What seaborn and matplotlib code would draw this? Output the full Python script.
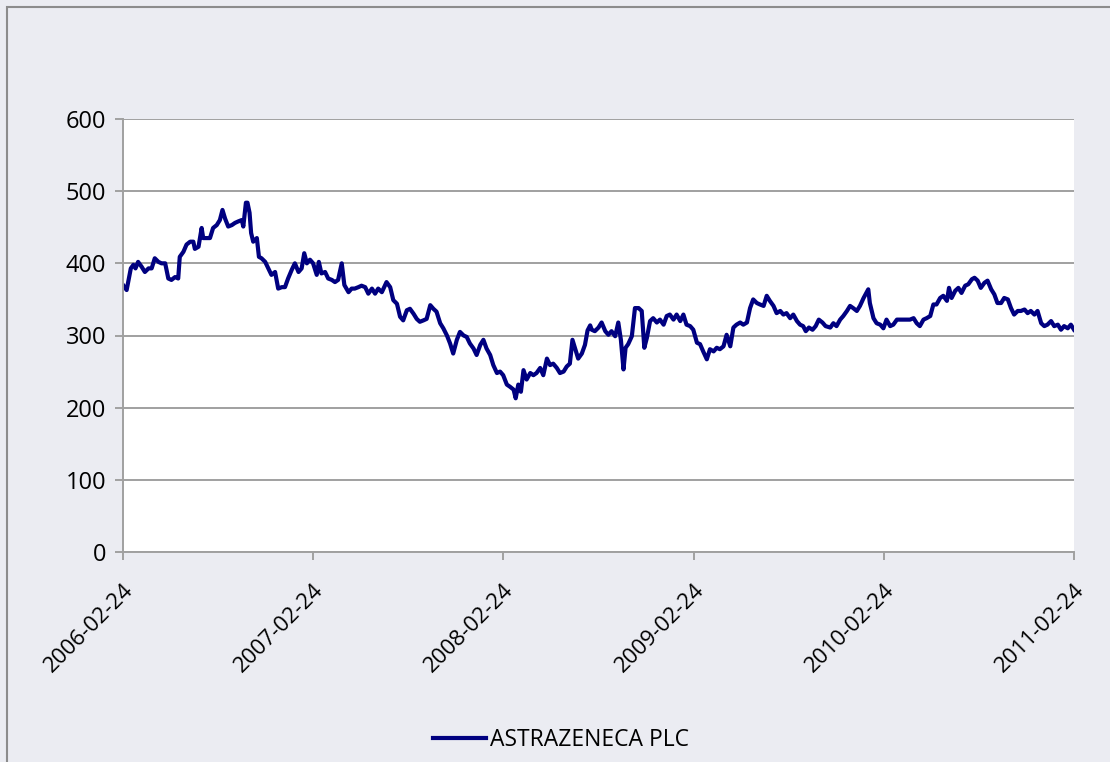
import pandas as pd
import numpy as np
import seaborn as sns
import matplotlib.pyplot as plt
import matplotlib.dates as mdates
from matplotlib.patches import Rectangle

# days after 2006-02-24 and closing price
start = pd.Timestamp('2006-02-24')

days = [0, 7, 15, 20, 24, 29, 36, 42, 49, 55, 61, 68, 74, 81, 87, 93, 100, 106,
        109, 116, 122, 129, 135, 138, 145, 151, 154, 161, 167, 173, 180, 186, 191,
        196, 202, 209, 215, 221, 228, 231, 236, 239, 243, 246, 250, 257, 261, 266,
        273, 279, 285, 292, 298, 305, 311, 317, 324, 330, 337, 343, 348, 353, 359,
        365, 372, 376, 381, 388, 394, 401, 407, 413, 420, 425, 433, 439, 445,
        452, 458, 465, 471, 478, 484, 490, 497, 506, 513, 519, 526, 532, 538, 545,
        551, 558, 564, 570, 577, 583, 590, 596, 602, 609, 615, 622, 628, 634, 641,
        647, 654, 660, 666, 673, 679, 686, 692, 698, 705, 711, 718, 724, 730, 737,
        743, 750, 754, 759, 764, 769, 775, 782, 788, 794, 801, 807, 814, 820, 826,
        833, 839, 846, 852, 858, 863, 868, 874, 881, 887, 892, 897,
        900, 906, 913, 919, 926, 932, 938, 945, 951, 956, 961, 965, 970, 977, 983,
        990, 996, 1001, 1006, 1012, 1018, 1025, 1031, 1038, 1044, 1050, 1057, 1063,
        1070, 1076, 1082, 1089, 1095, 1102, 1108, 1114, 1121, 1127, 1134, 1140,
        1146, 1153, 1159, 1166, 1172, 1178, 1185, 1191, 1198, 1204, 1210, 1217,
        1223, 1230, 1236, 1242, 1249, 1255, 1262, 1268, 1274, 1281, 1287, 1294,
        1300, 1306, 1311, 1317, 1324, 1330, 1336, 1343, 1349, 1358,
        1364, 1370, 1377, 1383, 1390, 1396, 1402, 1409, 1415, 1422, 1428, 1431,
        1434, 1441, 1447, 1454, 1460, 1466, 1473, 1479, 1486, 1492, 1498, 1505,
        1511, 1518, 1524, 1530, 1537, 1543, 1550, 1556, 1562, 1569, 1575, 1582,
        1586, 1591, 1598, 1604, 1610, 1617, 1623, 1630, 1635, 1641, 1647, 1654,
        1660, 1667, 1673, 1679, 1686, 1692, 1699, 1705, 1711, 1718, 1724, 1731,
        1737, 1743, 1750, 1756, 1763, 1769, 1775, 1782, 1788, 1795, 1801, 1807,
        1814, 1820, 1826]

price = [370, 363, 393, 398, 393, 402, 395, 388, 393, 393, 407, 402, 400, 400, 379, 377, 381, 379,
         409, 416, 426, 430, 430, 420, 423, 449, 435, 435, 435, 449, 453, 460, 474,
         462, 451, 453, 456, 458, 460, 451, 484, 484, 470, 442, 430, 435, 409, 407,
         402, 393, 384, 388, 365, 367, 367, 379, 391, 400, 388, 393, 414, 400, 405,
         400, 384, 402, 386, 388, 379, 377, 374, 377, 400, 370, 360, 365, 365,
         367, 369, 367, 358, 365, 358, 365, 360, 374, 367, 349, 344, 326, 321, 335,
         337, 330, 323, 319, 321, 323, 342, 337, 333, 317, 310, 300, 289, 275, 294,
         305, 300, 298, 289, 282, 273, 287, 294, 282, 273, 259, 248, 250, 245, 232,
         229, 225, 213, 232, 222, 252, 239, 248, 245, 248, 255, 245, 268, 259, 261,
         255, 248, 250, 257, 261, 294, 282, 268, 275, 287, 307, 314,
         308, 306, 311, 318, 306, 301, 306, 299, 318, 294, 253, 283, 288, 299, 338,
         338, 334, 283, 297, 320, 324, 318, 322, 315, 327, 329, 322, 329,
         320, 329, 315, 313, 308, 290, 288, 278, 267, 281, 278, 283,
         281, 285, 301, 285, 311, 315, 318, 315, 318, 338, 350, 345,
         343, 341, 355, 348, 341, 331, 334, 329, 331, 324, 329, 320,
         315, 313, 306, 311, 308, 313, 322, 318, 313, 311,
         317, 313, 322, 327, 334, 341, 338, 334, 341, 352, 360, 364,
         345, 324, 317, 315, 310, 322, 313, 315, 322, 322, 322, 322,
         322, 324, 317, 313, 322, 324, 327, 343, 343, 352, 355, 348,
         366, 352, 362, 366, 359, 369, 371, 378, 380, 376, 366, 373,
         376, 364, 357, 345, 345, 352, 350, 338, 329, 334, 334, 336,
         331, 334, 329, 334, 317, 313, 315, 320, 313, 315, 308, 313,
         310, 315, 308]

tick_dates = ['2006-02-24', '2007-02-24', '2008-02-24', '2009-02-24', '2010-02-24', '2011-02-24']
y_ticks = [0, 100, 200, 300, 400, 500, 600]
series_name = 'ASTRAZENECA PLC'

df = pd.DataFrame({'Date': start + pd.to_timedelta(days, unit='D'), series_name: price})

bg = '#ebecf2'
grid_col = '#a0a0a0'
plt.rcParams['font.family'] = ['Open Sans', 'DejaVu Sans']

fig = plt.figure(figsize=(11.1, 7.62), dpi=100, facecolor=bg)
ax = fig.add_axes([123 / 1110, 1 - 552 / 762, (1074 - 123) / 1110, (552 - 119) / 762])
ax.set_facecolor('white')

sns.lineplot(data=df, x='Date', y=series_name, ax=ax, color='#000080', linewidth=3.0,
             label=series_name, legend=False)

ax.set_ylim(0, 600)
ax.set_yticks(y_ticks)
ax.set_xlim(pd.Timestamp(tick_dates[0]), pd.Timestamp(tick_dates[-1]))
ax.set_xticks(pd.to_datetime(tick_dates))
ax.xaxis.set_major_formatter(mdates.DateFormatter('%Y-%m-%d'))
ax.grid(axis='y', color=grid_col, linewidth=1.4)
ax.set_axisbelow(True)
ax.set_xlabel('')
ax.set_ylabel('')

for s in ['top', 'right']:
    ax.spines[s].set_visible(False)
for s in ['left', 'bottom']:
    ax.spines[s].set_color(grid_col)
    ax.spines[s].set_linewidth(1.4)
ax.tick_params(axis='both', color=grid_col, width=1.4, length=6)
ax.tick_params(axis='y', labelsize=17, pad=6)
ax.tick_params(axis='x', labelsize=16, pad=14)
plt.setp(ax.get_xticklabels(), rotation=45, ha='right', rotation_mode='anchor')

handles, labels = ax.get_legend_handles_labels()
fig.legend(handles, labels, loc='center', bbox_to_anchor=(561 / 1110, 1 - 740 / 762),
           frameon=False, fontsize=16.5, handlelength=2.3, handletextpad=0.2)

# outer chart border (cropped on the right and bottom)
fig.patches.append(Rectangle((7 / 1110, -0.1), 1.2, 1.1 - 7 / 762, transform=fig.transFigure,
                             fill=False, edgecolor='#8c8c8c', linewidth=1.5))

fig.savefig('out.png', dpi=100, facecolor=bg)
